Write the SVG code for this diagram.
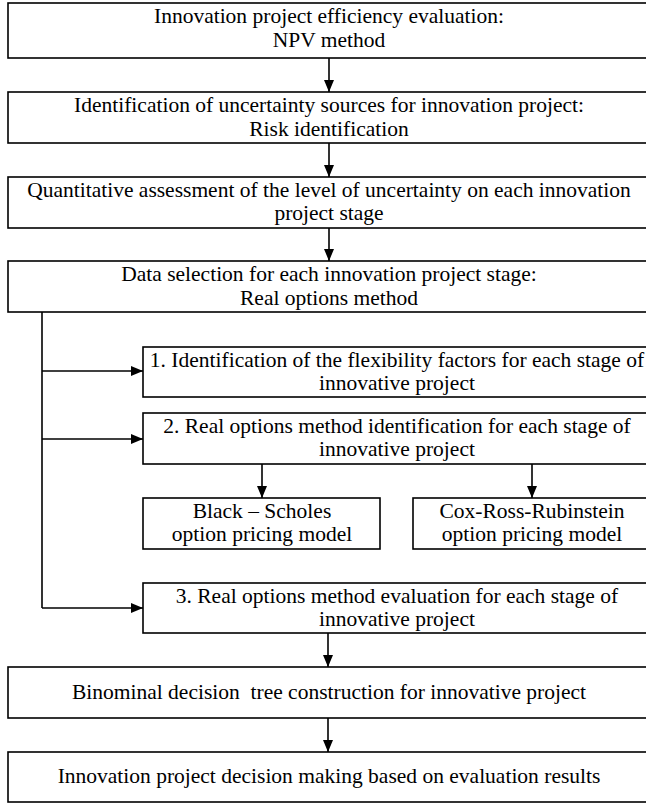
<svg xmlns="http://www.w3.org/2000/svg" width="646" height="803" viewBox="0 0 646 803">
<style>
.box{fill:#fff;stroke:#000;stroke-width:1.6}
.t{font-family:'Liberation Serif','DejaVu Serif','Times New Roman',serif;font-size:21.5px;fill:#000;text-anchor:middle}
.c{fill:none;stroke:#000;stroke-width:1.6}
</style>
<defs>
<marker id="ah" markerUnits="userSpaceOnUse" markerWidth="12" markerHeight="10" viewBox="0 0 12 10" refX="12" refY="5" orient="auto">
<path d="M0,0 L12,5 L0,10 Z" fill="#000"/>
</marker>
</defs>
<rect width="646" height="803" fill="#fff"/>
<g id="connectors">
<line class="c" x1="329" y1="58" x2="329" y2="92" marker-end="url(#ah)"/>
<line class="c" x1="329" y1="143" x2="329" y2="177" marker-end="url(#ah)"/>
<line class="c" x1="329" y1="228" x2="329" y2="261" marker-end="url(#ah)"/>
<polyline class="c" points="42,312 42,608"/>
<line class="c" x1="42" y1="371" x2="143" y2="371" marker-end="url(#ah)"/>
<line class="c" x1="42" y1="439" x2="143" y2="439" marker-end="url(#ah)"/>
<line class="c" x1="42" y1="608" x2="143" y2="608" marker-end="url(#ah)"/>
<line class="c" x1="262" y1="464" x2="262" y2="498" marker-end="url(#ah)"/>
<line class="c" x1="532" y1="464" x2="532" y2="498" marker-end="url(#ah)"/>
<line class="c" x1="328" y1="633" x2="328" y2="667" marker-end="url(#ah)"/>
<line class="c" x1="328" y1="718" x2="328" y2="752" marker-end="url(#ah)"/>
</g>
<g font-family="Liberation Serif, DejaVu Serif, serif">
<g id="n1">
<rect class="box" x="8" y="3" width="646" height="55"/>
<text class="t" x="329" y="23">Innovation project efficiency evaluation:</text>
<text class="t" x="329" y="47">NPV method</text>
</g>
<g id="n2">
<rect class="box" x="8" y="92" width="646" height="51"/>
<text class="t" x="329" y="112">Identification of uncertainty sources for innovation project:</text>
<text class="t" x="329" y="136">Risk identification</text>
</g>
<g id="n3">
<rect class="box" x="8" y="177" width="646" height="51"/>
<text class="t" x="329" y="197">Quantitative assessment of the level of uncertainty on each innovation</text>
<text class="t" x="329" y="220">project stage</text>
</g>
<g id="n4">
<rect class="box" x="8" y="261" width="646" height="51"/>
<text class="t" x="329" y="281">Data selection for each innovation project stage:</text>
<text class="t" x="329" y="305">Real options method</text>
</g>
<g id="s1">
<rect class="box" x="143" y="347" width="511" height="50"/>
<text class="t" x="397" y="367">1. Identification of the flexibility factors for each stage of</text>
<text class="t" x="397" y="390">innovative project</text>
</g>
<g id="s2">
<rect class="box" x="143" y="413" width="511" height="51"/>
<text class="t" x="397" y="433">2. Real options method identification for each stage of</text>
<text class="t" x="397" y="456">innovative project</text>
</g>
<g id="bs">
<rect class="box" x="143" y="498" width="237" height="51"/>
<text class="t" x="262" y="518">Black – Scholes</text>
<text class="t" x="262" y="541">option pricing model</text>
</g>
<g id="crr">
<rect class="box" x="413" y="498" width="241" height="51"/>
<text class="t" x="532" y="518">Cox-Ross-Rubinstein</text>
<text class="t" x="532" y="541">option pricing model</text>
</g>
<g id="s3">
<rect class="box" x="143" y="583" width="511" height="50"/>
<text class="t" x="397" y="603">3. Real options method evaluation for each stage of</text>
<text class="t" x="397" y="626">innovative project</text>
</g>
<g id="n5">
<rect class="box" x="8" y="667" width="646" height="51"/>
<text class="t" x="329" y="699" xml:space="preserve">Binominal decision  tree construction for innovative project</text>
</g>
<g id="n6">
<rect class="box" x="8" y="752" width="646" height="50"/>
<text class="t" x="329" y="783">Innovation project decision making based on evaluation results</text>
</g>
</g>
</svg>
